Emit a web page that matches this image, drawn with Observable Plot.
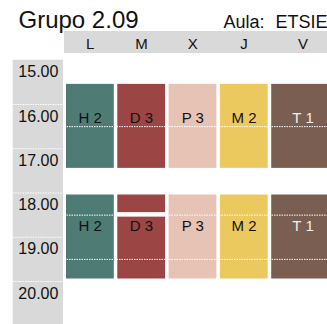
<!DOCTYPE html>
<html>
<head>
<meta charset="utf-8">
<script src="https://cdn.jsdelivr.net/npm/d3@7"></script>
<script src="https://cdn.jsdelivr.net/npm/@observablehq/plot@0.6"></script>
<style>
  html, body { margin: 0; padding: 0; background: white; }
  #chart svg { display: block; }
</style>
</head>
<body>
<div id="chart"></div>
<script>
// ---- data ----
const title = "Grupo 2.09";
const roomLabel = "Aula:";
const room = "ETSIE";
const days = ["L", "M", "X", "J", "V"];
const subjects = ["H 2", "D 3", "P 3", "M 2", "T 1"];
const dayColors = ["#4f7b75", "#9b4545", "#e7c3b6", "#ecc95f", "#7a5e51"];
const labelColors = ["#111111", "#111111", "#111111", "#111111", "#eeeeee"];
const sessionStart = [15.5, 18];
const sessionEnd = [17.5, 20];
const sessionLabelTime = [16.3, 18.75];
const hours = [15, 16, 17, 18, 19, 20];
const hourLabels = ["15.00", "16.00", "17.00", "18.00", "19.00", "20.00"];
const hourLines = [16, 17, 18, 19, 20];
const halfHourLines = [16.5, 18.5, 19.5];
const splitDay = "M";
const splitSession = 1;
const splitTime = 18.5;

// ---- layout helpers ----
const lastExtra = 0.3;
const colX1 = i => i;
const colX2 = i => (i === days.length - 1 ? i + 1 + lastExtra : i + 1);
const xMax = days.length + lastExtra;
const headerTop = 14.35, headerBottom = 14.85;

// ---- build tables ----
const blocks = [];
const labels = [];
sessionStart.forEach((s, si) => {
  days.forEach((d, i) => {
    const e = sessionEnd[si];
    if (d === splitDay && si === splitSession) {
      blocks.push({x1: colX1(i), x2: colX2(i), y1: s, y2: splitTime, fill: dayColors[i]});
      blocks.push({x1: colX1(i), x2: colX2(i), y1: splitTime, y2: e, fill: dayColors[i]});
    } else {
      blocks.push({x1: colX1(i), x2: colX2(i), y1: s, y2: e, fill: dayColors[i]});
    }
    labels.push({x: (colX1(i) + colX2(i)) / 2, y: sessionLabelTime[si], text: subjects[i], fill: labelColors[i]});
  });
});
const dayTable = days.map((d, i) => ({x: (colX1(i) + colX2(i)) / 2, text: d}));
const hourTable = hours.map((h, i) => ({y: h + 0.25, text: hourLabels[i]}));

const font = "'Liberation Sans', Arial, sans-serif";
const dots = {stroke: "white", strokeWidth: 1, strokeDasharray: "1.5,1"};

const chart = Plot.plot({
  width: 327,
  height: 324,
  margin: 0,
  x: {type: "linear", domain: [0, xMax], range: [64, 64 + xMax * 51.3], axis: null},
  y: {type: "linear", domain: [15, 21], range: [59.75, 325.25], axis: null},
  color: {type: "identity"},
  style: {fontFamily: font, background: "white"},
  marks: [
    // header band
    Plot.rect([0], {x1: 0, x2: xMax, y1: headerTop, y2: headerBottom, fill: "#d9d9d9"}),
    Plot.ruleY([headerBottom], {x1: 0, x2: xMax, ...dots}),
    // time column
    Plot.rect([0], {x1: -1, x2: 0, y1: 15, y2: 21, fill: "#d9d9d9", insetRight: 1}),
    Plot.ruleY(hourLines, {x1: -1, x2: 0, insetRight: 1, ...dots}),
    // blocks
    Plot.rect(blocks, {x1: "x1", x2: "x2", y1: "y1", y2: "y2", fill: "fill",
      insetLeft: 2, insetRight: 1.5, insetTop: 2, insetBottom: 2.5}),
    Plot.ruleY(halfHourLines, {x1: 0, x2: xMax, ...dots}),
    // texts
    Plot.text(labels, {x: "x", y: "y", text: "text", fill: "fill", fontSize: 15}),
    Plot.text(dayTable, {x: "x", y: (headerTop + headerBottom) / 2, text: "text", fill: "#111", fontSize: 15, dy: 1.5}),
    Plot.text(hourTable, {x: -0.5, y: "y", text: "text", fill: "#111", fontSize: 16, dy: 1, dx: -0.5}),
    Plot.text([title], {text: d => d, frameAnchor: "top-left", dx: 18, dy: 27, textAnchor: "start", lineAnchor: "bottom", fontSize: 24, fill: "#111"}),
    Plot.text([roomLabel], {text: d => d, frameAnchor: "top-left", dx: 223, dy: 27, textAnchor: "start", lineAnchor: "bottom", fontSize: 18, fill: "#111"}),
    Plot.text([room], {text: d => d, frameAnchor: "top-left", dx: 275, dy: 27, textAnchor: "start", lineAnchor: "bottom", fontSize: 18, fill: "#111"})
  ]
});
document.getElementById("chart").appendChild(chart);
</script>
</body>
</html>
